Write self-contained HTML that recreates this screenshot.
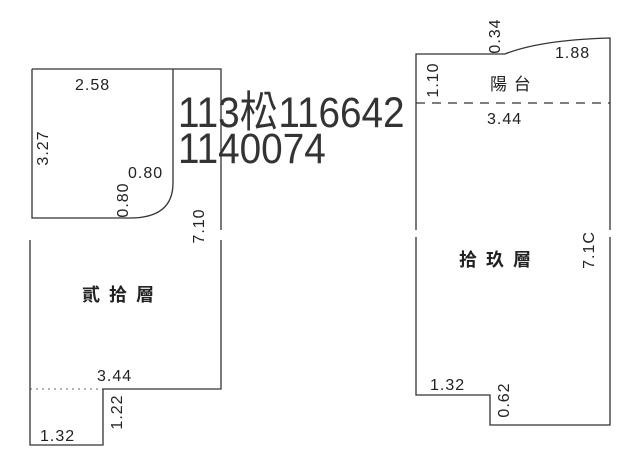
<!DOCTYPE html>
<html><head><meta charset="utf-8"><style>
html,body{margin:0;padding:0;background:#fff;}
svg{display:block;}
text{font-family:"Liberation Sans","Noto Sans CJK TC",sans-serif;fill:#222;}
</style></head><body>
<svg width="640" height="467" viewBox="0 0 640 467" xmlns="http://www.w3.org/2000/svg">
<g stroke="#333" stroke-width="1.3" fill="none">
<path d="M32 69 H173 V69 H221 V230"/>
<path d="M221 240 V389 H103 V445 H30 V240"/>
<path d="M32 69 V218 H130 Q173 218 173 183 V69"/>
<line x1="30" y1="389" x2="103" y2="389" stroke-dasharray="2 4" stroke-width="0.8"/>
<path d="M416 230 V54 H505 Q540 40 610 38 V230"/>
<path d="M610 237 V425 H490 V395 H416 V237"/>
<line x1="416" y1="103" x2="610" y2="103" stroke-dasharray="9 7"/>
</g>
<g font-size="16" letter-spacing="1">
<text x="75" y="90">2.58</text>
<text transform="translate(48,148) rotate(-90)" text-anchor="middle">3.27</text>
<text x="128" y="178">0.80</text>
<text transform="translate(128,200) rotate(-90)" text-anchor="middle">0.80</text>
<text transform="translate(204,226) rotate(-90)" text-anchor="middle">7.10</text>
<text x="97" y="381">3.44</text>
<text transform="translate(122,412) rotate(-90)" text-anchor="middle">1.22</text>
<text x="40" y="441">1.32</text>
<text transform="translate(500,36) rotate(-90)" text-anchor="middle">0.34</text>
<text x="555" y="58">1.88</text>
<text transform="translate(438,80) rotate(-90)" text-anchor="middle">1.10</text>
<text x="490" y="90" font-size="17">陽 台</text>
<text x="487" y="124">3.44</text>
<text transform="translate(594,250) rotate(-90)" text-anchor="middle">7.1C</text>
<text x="430" y="390">1.32</text>
<text transform="translate(509,400) rotate(-90)" text-anchor="middle">0.62</text>
</g>
<g font-size="18" font-weight="bold" style="font-family:'Noto Serif CJK SC','Noto Sans CJK TC',serif">
<text x="82" y="301" letter-spacing="9">貳拾層</text>
<text x="459" y="266" letter-spacing="9">拾玖層</text>
</g>
<g font-size="43" transform="translate(178,0) scale(0.9,1)">
<text x="0" y="127" style="fill:#333">113松116642</text>
<text x="0" y="163" style="fill:#333">1140074</text>
</g>
</svg>
</body></html>
